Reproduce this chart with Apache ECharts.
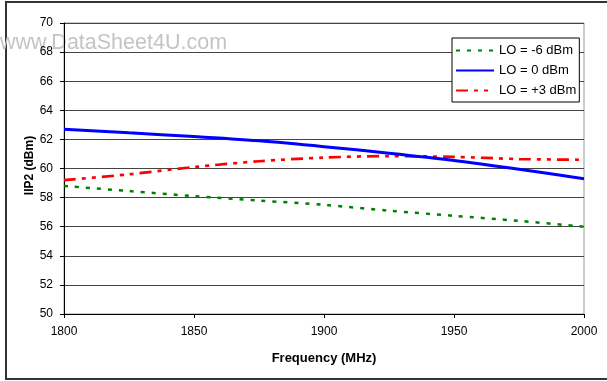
<!DOCTYPE html>
<html lang="en">
<head>
    <meta charset="utf-8">
    <script src="https://cdn.jsdelivr.net/npm/echarts@6/dist/echarts.min.js"></script>
    <title>iip2_vs_freq</title>
</head>
<body>
<style>
    html, body, #main {
        width: 607px;
        height: 381px;
        margin: 0;
        background: #fff;
    }
</style>
<div id='main'></div>
<script>
    // frequency points (MHz)
    var freqs = [1800, 1825, 1850, 1875, 1900, 1925, 1950, 1975, 2000];
    // IIP2 values (dBm)
    var loMinus6 = [58.8, 58.45, 58.1, 57.8, 57.5, 57.1, 56.75, 56.4, 56.0];
    var lo0 = [62.7, 62.45, 62.2, 61.9, 61.5, 61.05, 60.55, 59.95, 59.3];
    var loPlus3 = [59.2, 59.6, 60.1, 60.5, 60.75, 60.85, 60.8, 60.65, 60.6];
    var seriesNames = ['LO = -6 dBm', 'LO = 0 dBm', 'LO = +3 dBm'];

    function pairs(vals) {
        return freqs.map(function (f, i) { return [f, vals[i]]; });
    }

    var font = 'Liberation Sans, Arial, sans-serif';
    var chart = echarts.init(document.getElementById('main'));
    var option = {
        animation: false,
        backgroundColor: '#fff',
        textStyle: {fontFamily: font},
        graphic: [
            {
                type: 'rect', z: 0,
                shape: {x: 6, y: 2, width: 640, height: 377},
                style: {fill: 'none', stroke: '#333', lineWidth: 2}
            },
            {
                type: 'text', z: 0, x: 0, y: 32,
                style: {
                    text: 'www.DataSheet4U.com', fill: '#c4c4c4',
                    font: '21.5px ' + font, verticalAlign: 'top'
                }
            }
        ],
        grid: {
            left: 64, top: 23, right: 23, bottom: 67,
            show: true, borderColor: '#999', borderWidth: 1
        },
        legend: {
            orient: 'vertical',
            left: 452, top: 38,
            padding: [6, 3, 5, 3],
            itemGap: 7,
            itemWidth: 38, itemHeight: 14,
            backgroundColor: '#fff',
            borderColor: '#000', borderWidth: 1,
            itemStyle: {opacity: 0},
            textStyle: {fontSize: 13, color: '#000', fontFamily: font},
            data: seriesNames
        },
        xAxis: {
            type: 'value',
            min: 1800, max: 2000, interval: 50,
            name: 'Frequency (MHz)',
            nameLocation: 'middle', nameGap: 38,
            nameMoveOverlap: false,
            nameTextStyle: {fontWeight: 'bold', fontSize: 13, color: '#000'},
            axisLine: {lineStyle: {color: '#000'}},
            axisTick: {show: true, length: 4, lineStyle: {color: '#000'}},
            axisLabel: {
                fontSize: 12, color: '#000', margin: 12,
                formatter: function (v) { return String(v); }
            },
            splitLine: {show: false}
        },
        yAxis: {
            type: 'value',
            min: 50, max: 70, interval: 2,
            name: 'IIP2 (dBm)',
            nameLocation: 'middle', nameGap: 28,
            nameMoveOverlap: false,
            nameTextStyle: {fontWeight: 'bold', fontSize: 12, color: '#000', padding: [0, 0, 0, 6]},
            axisLine: {show: true, lineStyle: {color: '#000'}},
            axisTick: {show: true, length: 4, lineStyle: {color: '#000'}},
            axisLabel: {fontSize: 12, color: '#000', margin: 11},
            splitLine: {lineStyle: {color: '#444', width: 1}}
        },
        series: [
            {
                name: seriesNames[0], type: 'line', data: pairs(loMinus6),
                smooth: 0.3, symbol: 'none', z: 3,
                lineStyle: {color: '#008000', width: 2.5, type: [4, 7]},
                itemStyle: {color: '#008000'}
            },
            {
                name: seriesNames[1], type: 'line', data: pairs(lo0),
                smooth: 0.3, symbol: 'none', z: 4,
                lineStyle: {color: '#0000ff', width: 3},
                itemStyle: {color: '#0000ff'}
            },
            {
                name: seriesNames[2], type: 'line', data: pairs(loPlus3),
                smooth: 0.3, symbol: 'none', z: 3,
                lineStyle: {color: '#ff0000', width: 2.7, type: [12, 6, 4, 6, 4, 6]},
                itemStyle: {color: '#ff0000'}
            }
        ]
    };
    chart.setOption(option);
</script>
</body>
</html>
